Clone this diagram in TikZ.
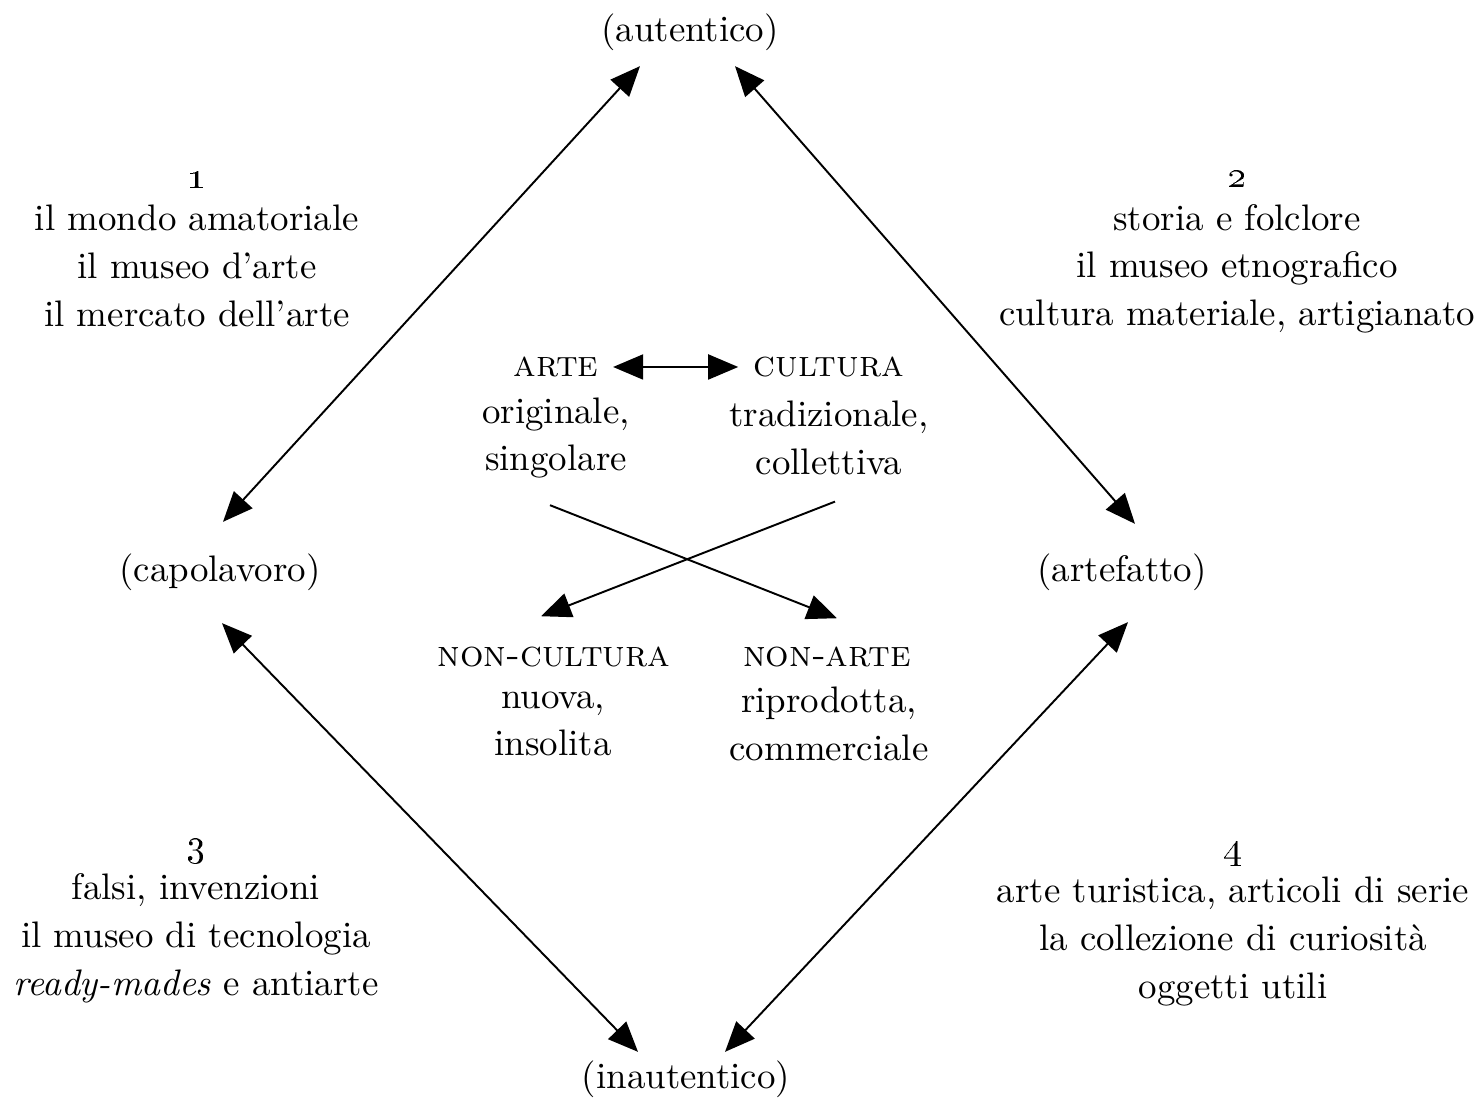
\documentclass[tikz,border=0pt]{standalone}
\usepackage{amsmath,amssymb}
\usepackage{tikz}
\usetikzlibrary{arrows.meta,positioning}

\begin{document}
\begin{tikzpicture}[
		txt/.style={inner sep=0pt,align=center,font=\fontsize{10.5}{13.6}\selectfont},
		both/.style={line width=.55pt,{Triangle[length=.3cm,width=.25cm]}-{Triangle[length=.3cm,width=.25cm]}},
		one/.style={line width=.55pt,-{Triangle[length=.3cm,width=.25cm]}}]
		\useasboundingbox (0,0) rectangle (14.81,10.97);
		% i quattro poli
		\node[txt] (aut) at (6.90,10.65) {(autentico)};
		\node[txt] (inaut) at (6.86,.18) {(inautentico)};
		\node[txt] (capo) at (2.20,5.25) {(capolavoro)};
		\node[txt] (artef) at (11.22,5.25) {(artefatto)};
		% i quattro settori
		\node[txt] (uno) at (1.97,8.48) {\oldstylenums{1}\\[-1.5pt]il mondo amatoriale\\il museo d'arte\\il mercato dell'arte};
		\node[txt] (due) at (12.37,8.45) {\oldstylenums{2}\\[-1.5pt]storia e folclore\\il museo etnografico\\cultura materiale, artigianato};
		\node[txt] (tre) at (1.96,1.76) {\oldstylenums{3}\\[-1pt]falsi, invenzioni\\il museo di tecnologia\\\textit{ready-mades} e antiarte};
		\node[txt] (quattro) at (12.33,1.73) {\oldstylenums{4}\\[-1pt]arte turistica, articoli di serie\\la collezione di curiosità\\oggetti utili};
		% il centro
		\node[txt] (arte) at (5.56,7.30) {\textsc{arte}};
		\node[txt] (cult) at (8.29,7.30) {\textsc{cultura}};
		\node[txt] (arteq) at (5.56,6.59) {originale,\\singolare};
		\node[txt] (cultq) at (8.29,6.59) {tradizionale,\\collettiva};
		\node[txt] (noncult) at (5.54,4.40) {\textsc{non-cultura}};
		\node[txt] (nonarte) at (8.27,4.40) {\textsc{non-arte}};
		\node[txt] (noncultq) at (5.53,3.73) {nuova,\\insolita};
		\node[txt] (nonarteq) at (8.29,3.73) {riprodotta,\\commerciale};
		% frecce
		\draw[both,shorten <=.14cm,shorten >=.15cm] (arte.east)--(cult.west);
		\draw[one] ([shift={(-.06,-.26)}]arteq.south)--([shift={(.10,.28)}]nonarte.north);
		\draw[one] ([shift={(.06,-.26)}]cultq.south)--([shift={(-.13,.30)}]noncult.north);
		\draw[both] ([shift={(.03,.31)}]capo.north)--([shift={(-.50,-.15)}]aut.south);
		\draw[both] ([shift={(.13,.29)}]artef.north)--([shift={(.45,-.15)}]aut.south);
		\draw[both] ([shift={(.02,-.32)}]capo.south)--([shift={(-.48,.08)}]inaut.north);
		\draw[both] ([shift={(.06,-.31)}]artef.south)--([shift={(.39,.08)}]inaut.north);
	\end{tikzpicture}
\end{document}
